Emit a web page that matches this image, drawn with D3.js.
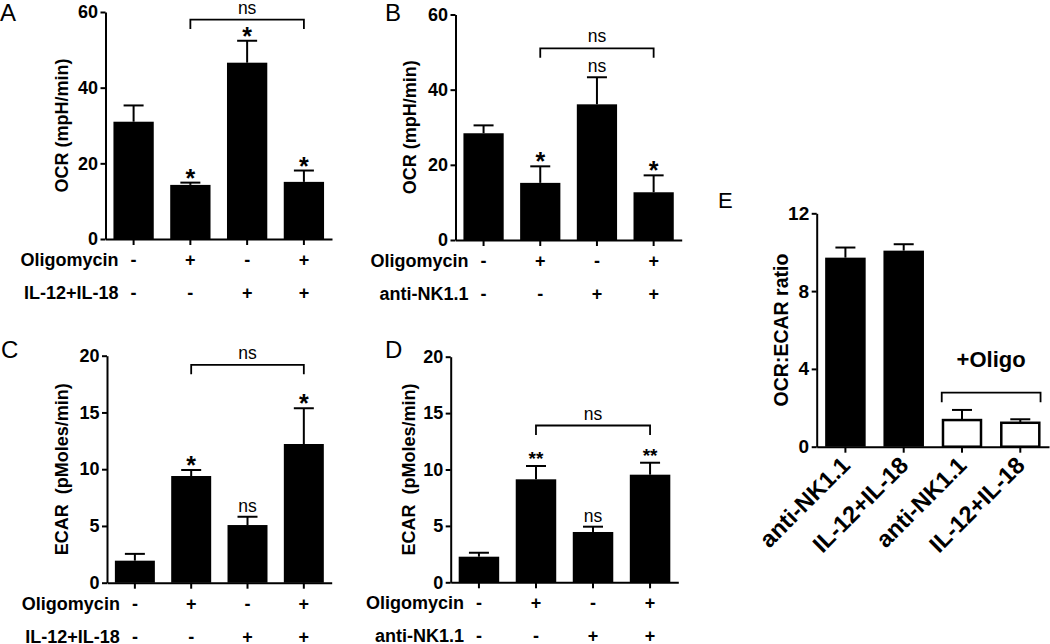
<!DOCTYPE html>
<html>
<head>
<meta charset="utf-8">
<script src="https://cdn.jsdelivr.net/npm/d3@7"></script>
<style>
  html, body { margin: 0; padding: 0; background: #fff; }
  svg { display: block; font-family: "Liberation Sans", Arial, sans-serif; }
  text { white-space: pre; }
</style>
</head>
<body>
<svg id="chart" width="1050" height="644"></svg>
<script>
// ---------------- data ----------------
const conditionIndex = [0, 1, 2, 3];
const oligomycinRow = ["-", "+", "-", "+"];
const il12il18Row = ["-", "-", "+", "+"];
const antiNK11Row = ["-", "-", "+", "+"];

// A: OCR, IL-12+IL-18
const ocrIL_mean = [31.0, 14.3, 46.6, 15.1];
const ocrIL_sem = [4.3, 0.6, 5.8, 3.0];
const ocrIL_sig = ["", "*", "*", "*"];
// B: OCR, anti-NK1.1
const ocrNK_mean = [28.4, 15.2, 36.1, 12.7];
const ocrNK_sem = [2.1, 4.4, 7.2, 4.5];
const ocrNK_sig = ["", "*", "ns", "*"];
// C: ECAR, IL-12+IL-18
const ecarIL_mean = [1.94, 9.40, 5.08, 12.22];
const ecarIL_sem = [0.60, 0.53, 0.73, 3.15];
const ecarIL_sig = ["", "*", "ns", "*"];
// D: ECAR, anti-NK1.1
const ecarNK_mean = [2.27, 9.13, 4.46, 9.54];
const ecarNK_sem = [0.35, 1.18, 0.47, 1.06];
const ecarNK_sig = ["", "**", "ns", "**"];
// E: OCR:ECAR ratio
const ratioCategories = ["anti-NK1.1", "IL-12+IL-18", "anti-NK1.1", "IL-12+IL-18"];
const ratio_mean = [9.72, 10.08, 1.37, 1.23];
const ratio_sem = [0.52, 0.33, 0.52, 0.18];
const ratioOligo = [false, false, true, true];

// tick labels
const ocrTicks = [0, 20, 40, 60];
const ecarTicks = [0, 5, 10, 15, 20];
const ratioTicks = [0, 4, 8, 12];

// comparison brackets (from bar, to bar, level in data units)
const bracketA = [1, 3, 58.0];
const bracketB = [1, 3, 51];
const bracketC = [1, 3, 19.2];
const bracketD = [1, 3, 13.9];
const bracketE = [2, 3, 2.78];

// ---------------- drawing ----------------
const svg = d3.select("#chart");
const FONT = '"Liberation Sans", Arial, sans-serif';

function panel(cfg) {
  const g = svg.append("g");
  const n = cfg.mean.length;
  const x = d3.scaleBand().domain(d3.range(n)).range([cfg.x0, cfg.x1])
    .paddingInner(cfg.pi).paddingOuter(cfg.po);
  const y = d3.scaleLinear().domain([0, cfg.ymax]).range([cfg.yBottom, cfg.yTop]);
  const bw = x.bandwidth();
  const cx = i => x(i) + bw / 2;

  // bars
  g.selectAll("rect.bar").data(cfg.mean).join("rect")
    .attr("class", "bar")
    .attr("x", (d, i) => cfg.white && cfg.white[i] ? x(i) + 1.25 : x(i))
    .attr("width", (d, i) => cfg.white && cfg.white[i] ? bw - 2.5 : bw)
    .attr("y", d => y(d))
    .attr("height", d => y(0) - y(d))
    .attr("fill", (d, i) => cfg.white && cfg.white[i] ? "#fff" : "#000")
    .attr("stroke", (d, i) => cfg.white && cfg.white[i] ? "#000" : "none")
    .attr("stroke-width", 2.5);

  // error bars (upper only)
  const eb = g.selectAll("g.err").data(cfg.mean).join("g").attr("class", "err");
  eb.append("line")
    .attr("x1", (d, i) => cx(i)).attr("x2", (d, i) => cx(i))
    .attr("y1", d => y(d)).attr("y2", (d, i) => y(d + cfg.sem[i]))
    .attr("stroke", "#000").attr("stroke-width", 2);
  eb.append("line")
    .attr("x1", (d, i) => cx(i) - 10).attr("x2", (d, i) => cx(i) + 10)
    .attr("y1", (d, i) => y(d + cfg.sem[i])).attr("y2", (d, i) => y(d + cfg.sem[i]))
    .attr("stroke", "#000").attr("stroke-width", 2);

  // axes
  const yAxis = d3.axisLeft(y).tickValues(cfg.ticks).tickSize(5).tickSizeOuter(0).tickPadding(2.5);
  const ya = g.append("g").attr("transform", `translate(${cfg.x0},0)`).call(yAxis);
  ya.selectAll("text").attr("font-family", FONT).attr("font-size", cfg.tickFont || 18)
    .attr("font-weight", "bold").attr("fill", "#000");
  ya.selectAll("line, path").attr("stroke", "#000").attr("stroke-width", 2);

  const xAxis = d3.axisBottom(x).tickSize(6).tickSizeOuter(0).tickFormat(() => "");
  const xa = g.append("g").attr("transform", `translate(0,${cfg.yBottom})`).call(xAxis);
  xa.selectAll("line, path").attr("stroke", "#000").attr("stroke-width", 2);

  // y title
  g.append("text")
    .attr("transform", `translate(${cfg.titleX},${(cfg.yTop + cfg.yBottom) / 2}) rotate(-90)`)
    .attr("text-anchor", "middle")
    .attr("font-family", FONT).attr("font-size", cfg.titleFont || 18).attr("font-weight", "bold")
    .text(cfg.title);

  // significance marks
  if (cfg.sig) {
    cfg.sig.forEach((s, i) => {
      if (!s) return;
      const top = y(cfg.mean[i] + cfg.sem[i]);
      const t = g.append("text").attr("x", cx(i)).attr("text-anchor", "middle")
        .attr("font-family", FONT).text(s);
      if (s === "ns") t.attr("y", top - 5).attr("font-size", 17.5);
      else if (s === "**") t.attr("y", top - 1).attr("font-size", 19).attr("font-weight", "bold");
      else t.attr("y", top + 4).attr("font-size", 25).attr("font-weight", "bold");
    });
  }

  // bracket
  if (cfg.bracket) {
    const [a, b, lvl] = cfg.bracket;
    const by = y(lvl);
    const xa0 = cfg.bracketEdges ? x(a) : cx(a);
    const xb0 = cfg.bracketEdges ? x(b) + bw : cx(b);
    g.append("path")
      .attr("d", `M${xa0},${by + 9.5}V${by}H${xb0}V${by + 9.5}`)
      .attr("fill", "none").attr("stroke", "#000").attr("stroke-width", 1.8);
    if (cfg.bracketText) {
      g.append("text").attr("x", (xa0 + xb0) / 2).attr("y", by + cfg.bracketTextDy)
        .attr("text-anchor", "middle").attr("font-family", FONT)
        .attr("font-size", cfg.bracketFont).attr("font-weight", cfg.bracketWeight)
        .text(cfg.bracketText);
    }
  }

  // condition rows
  if (cfg.rows) {
    cfg.rows.forEach((row, r) => {
      const ry = cfg.yBottom + (r === 0 ? 27 : 60);
      g.append("text").attr("x", cx(0) - 15).attr("y", ry).attr("text-anchor", "end")
        .attr("font-family", FONT).attr("font-size", 18).attr("font-weight", "bold")
        .text(row.label);
      row.values.forEach((v, i) => {
        g.append("text").attr("x", cx(i)).attr("y", ry).attr("text-anchor", "middle")
          .attr("font-family", FONT).attr("font-size", 18).attr("font-weight", "bold")
          .text(v);
      });
    });
  }

  // rotated category labels
  if (cfg.categories) {
    cfg.categories.forEach((c, i) => {
      g.append("text")
        .attr("transform", `translate(${cx(i) + 6},${cfg.yBottom + 20}) rotate(-45)`)
        .attr("text-anchor", "end")
        .attr("font-family", FONT).attr("font-size", 23.5).attr("font-weight", "bold")
        .text(c);
    });
  }

  // panel letter
  g.append("text").attr("x", cfg.letterX).attr("y", cfg.letterY)
    .attr("font-family", FONT).attr("font-size", cfg.letterFont || 24)
    .text(cfg.letter);
}

panel({
  letter: "A", letterX: 0, letterY: 20.5,
  mean: ocrIL_mean, sem: ocrIL_sem, sig: ocrIL_sig,
  x0: 105.5, x1: 332, pi: 0.29, po: 0.14, yTop: 12, yBottom: 239, ymax: 60,
  ticks: ocrTicks, title: "OCR (mpH/min)", titleX: 68,
  bracket: bracketA, bracketText: "ns", bracketTextDy: -5.5, bracketFont: 17.5, bracketWeight: "normal",
  rows: [{ label: "Oligomycin", values: oligomycinRow }, { label: "IL-12+IL-18", values: il12il18Row }]
});

panel({
  letter: "B", letterX: 385, letterY: 20.5,
  mean: ocrNK_mean, sem: ocrNK_sem, sig: ocrNK_sig,
  x0: 455.5, x1: 681.7, pi: 0.29, po: 0.14, yTop: 14.5, yBottom: 240, ymax: 60,
  ticks: ocrTicks, title: "OCR (mpH/min)", titleX: 416,
  bracket: bracketB, bracketText: "ns", bracketTextDy: -6, bracketFont: 17.5, bracketWeight: "normal",
  rows: [{ label: "Oligomycin", values: oligomycinRow }, { label: "anti-NK1.1", values: antiNK11Row }]
});

panel({
  letter: "C", letterX: 1, letterY: 358,
  mean: ecarIL_mean, sem: ecarIL_sem, sig: ecarIL_sig,
  x0: 107, x1: 331.7, pi: 0.29, po: 0.14, yTop: 355.7, yBottom: 582.7, ymax: 20,
  ticks: ecarTicks, title: "ECAR  (pMoles/min)", titleX: 68,
  bracket: bracketC, bracketText: "ns", bracketTextDy: -6, bracketFont: 17.5, bracketWeight: "normal",
  rows: [{ label: "Oligomycin", values: oligomycinRow }, { label: "IL-12+IL-18", values: il12il18Row }]
});

panel({
  letter: "D", letterX: 385, letterY: 358,
  mean: ecarNK_mean, sem: ecarNK_sem, sig: ecarNK_sig,
  x0: 450.7, x1: 678.3, pi: 0.29, po: 0.14, yTop: 356.7, yBottom: 582.3, ymax: 20,
  ticks: ecarTicks, title: "ECAR  (pMoles/min)", titleX: 415,
  bracket: bracketD, bracketText: "ns", bracketTextDy: -6, bracketFont: 17.5, bracketWeight: "normal",
  rows: [{ label: "Oligomycin", values: oligomycinRow }, { label: "anti-NK1.1", values: antiNK11Row }]
});

panel({
  letter: "E", letterX: 718, letterY: 208, letterFont: 22,
  mean: ratio_mean, sem: ratio_sem, white: ratioOligo,
  x0: 816.7, x1: 1049, pi: 0.305, po: 0.145, yTop: 213.3, yBottom: 446.7, ymax: 12,
  ticks: ratioTicks, title: "OCR:ECAR ratio", titleX: 788, titleFont: 19.5, tickFont: 19,
  bracket: bracketE, bracketEdges: true, bracketText: "+Oligo", bracketTextDy: -26,
  bracketFont: 22, bracketWeight: "bold",
  categories: ratioCategories
});
</script>
</body>
</html>
